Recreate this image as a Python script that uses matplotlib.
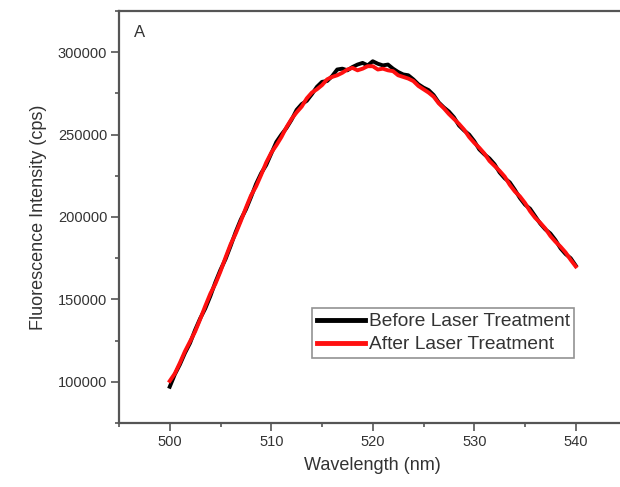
import matplotlib.pyplot as plt
from matplotlib.ticker import MultipleLocator

# wavelength grid (nm), 0.5 nm step
wavelength = [500 + 0.5 * i for i in range(81)]

before = [97000, 104500, 110500, 117500, 123500, 131500, 138500, 144500, 152000, 160500,
          168000, 174500, 182500, 191000, 198500, 204500, 212000, 220000, 226500, 231500,
          238500, 245500, 250000, 254000, 259000, 265000, 268500, 270500, 274500, 279000,
          282000, 282500, 285500, 289500, 290000, 289000, 291000, 292500, 293500, 292000,
          294500, 293000, 292000, 292500, 290000, 288000, 286500, 286000, 283500, 280500,
          278500, 277000, 274000, 269500, 266500, 264000, 260500, 255500, 252500, 250000,
          246000, 241000, 238000, 235500, 232000, 227000, 223500, 221000, 216500, 211500,
          207500, 205000, 200500, 196000, 192500, 190000, 186000, 181000, 177500, 175000, 170500]

after = [100500, 105000, 111500, 118500, 124500, 130500, 138000, 146000, 153500, 159500,
         167000, 175500, 183500, 190000, 197500, 205500, 213000, 218500, 225500, 233000,
         239000, 243500, 248500, 254500, 259500, 263500, 267000, 272000, 275500, 277500,
         280000, 283500, 285000, 286000, 287500, 289500, 290500, 289000, 290000, 291500,
         291500, 289500, 290000, 289000, 288500, 286000, 285000, 284000, 282500, 279500,
         277500, 275500, 273000, 269000, 266000, 262500, 259500, 256500, 253000, 248500,
         245000, 242000, 238500, 234000, 231000, 228000, 224500, 219500, 215500, 212500,
         208500, 203500, 199500, 196500, 193000, 188500, 185000, 182000, 178500, 174000, 170000]

plt.rcParams['font.family'] = ['Liberation Sans', 'DejaVu Sans']

fig = plt.figure(figsize=(6.2, 4.87), dpi=100)
ax = fig.add_axes([119/620, 64/487, 507.5/620, 412/487])

ax.plot(wavelength, before, color='black', lw=2.8, label='Before Laser Treatment')
ax.plot(wavelength, after, color='#ff1010', lw=2.8, label='After Laser Treatment')

ax.set_xlim(495, 545)
ax.set_ylim(75000, 325000)
ax.xaxis.set_major_locator(MultipleLocator(10))
ax.xaxis.set_minor_locator(MultipleLocator(5))
ax.yaxis.set_major_locator(MultipleLocator(50000))
ax.yaxis.set_minor_locator(MultipleLocator(25000))

for s in ax.spines.values():
    s.set_color('#555555')
    s.set_linewidth(1.6)
ax.tick_params(which='major', length=5.5, width=1.2, color='#555555',
               labelsize=10.5, labelcolor='#333333', pad=3)
ax.tick_params(which='minor', length=3, width=1.2, color='#555555')

ax.set_xlabel('Wavelength (nm)', fontsize=13, color='#333333', labelpad=6)
ax.set_ylabel('Fluorescence Intensity (cps)', fontsize=13, color='#333333', labelpad=8)

ax.text(0.041, 0.949, 'A', transform=ax.transAxes, fontsize=12, color='#333333',
        ha='center', va='center')

leg = ax.legend(loc='upper left', bbox_to_anchor=(312/620, 1 - 308/487),
                bbox_transform=fig.transFigure, fontsize=13.8, frameon=True,
                fancybox=False, handlelength=2.5, handletextpad=0.2,
                labelspacing=0.3, borderpad=0.25, borderaxespad=0)
leg.get_frame().set_edgecolor('#777777')
leg.get_frame().set_linewidth(1.2)
for line in leg.get_lines():
    line.set_linewidth(3.5)
for t in leg.get_texts():
    t.set_color('#333333')

fig.savefig('out.png', dpi=100)
